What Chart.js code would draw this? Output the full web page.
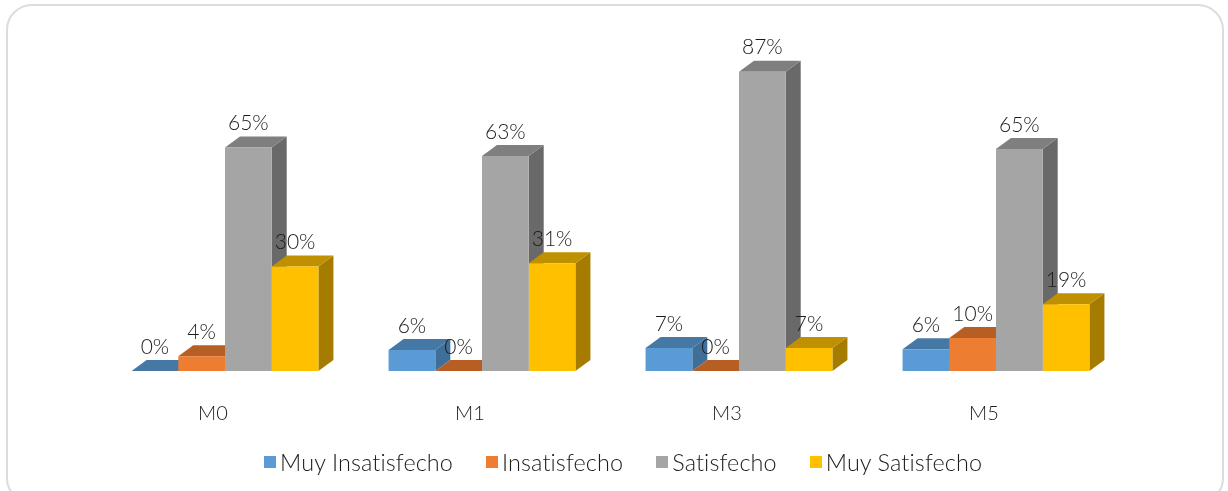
<!DOCTYPE html>
<html lang="es">
<head>
  <meta charset="UTF-8" />
  <title>Satisfaccion</title>
  <script src="https://cdn.jsdelivr.net/npm/chart.js"></script>
  <style>
    html, body { margin: 0; padding: 0; background: #fff; overflow: hidden; }
    #wrap { position: relative; width: 1228px; height: 491px; overflow: hidden; }
    #card { position: absolute; left: 6px; top: 4px; width: 1218px; height: 500px; box-sizing: border-box;
            border: 2px solid #dcdcdc; border-radius: 26px; }
    canvas { position: absolute; left: 0; top: 0; }
    #legend { position: absolute; left: 264px; top: 448px; display: flex; gap: 33px; font: 300 23.4px Lato; letter-spacing: .12px; line-height: 28px; color: #1c1c1c; white-space: nowrap; }
    #legend div { display: flex; align-items: center; }
    #legend i { width: 12px; height: 12px; margin-right: 4px; }
  </style>
</head>
<body>
  <div id="wrap">
    <div id="card"></div>
    <canvas id="chart" width="1228" height="491"></canvas>
    <div id="legend"></div>
  </div>

  <script>
    const categories = ['M0', 'M1', 'M3', 'M5'];
    const muyInsatisfecho = [0, 6.1, 6.7, 6.3];
    const insatisfecho = [4.3, 0, 0, 9.6];
    const satisfecho = [65, 62.5, 87, 64.5];
    const muySatisfecho = [30.4, 31.3, 6.7, 19.4];

    const fontName = 'Lato';
    const textColor = '#1c1c1c';
    const depthX = 15;
    const depthY = 11;

    // fake 3d: side and top faces go behind the bars, then the labels on top
    const bars3d = {
      id: 'bars3d',
      beforeDatasetsDraw(chart) {
        const ctx = chart.ctx;
        chart.data.datasets.forEach((ds, i) => {
          chart.getDatasetMeta(i).data.forEach(bar => {
            const left = bar.x - bar.width / 2;
            const right = bar.x + bar.width / 2;
            ctx.fillStyle = ds.sideColor;
            ctx.beginPath();
            ctx.moveTo(right, bar.y);
            ctx.lineTo(right + depthX, bar.y - depthY);
            ctx.lineTo(right + depthX, bar.base - depthY);
            ctx.lineTo(right, bar.base);
            ctx.closePath();
            ctx.fill();
            ctx.fillStyle = ds.topColor;
            ctx.beginPath();
            ctx.moveTo(left, bar.y);
            ctx.lineTo(left + depthX, bar.y - depthY);
            ctx.lineTo(right + depthX, bar.y - depthY);
            ctx.lineTo(right, bar.y);
            ctx.closePath();
            ctx.fill();
          });
        });
      },
      afterDatasetsDraw(chart) {
        const ctx = chart.ctx;
        ctx.font = '300 21px ' + fontName;
        ctx.fillStyle = textColor;
        ctx.textAlign = 'center';
        ctx.textBaseline = 'middle';
        chart.data.datasets.forEach((ds, i) => {
          chart.getDatasetMeta(i).data.forEach((bar, j) => {
            ctx.fillText(Math.round(ds.data[j]) + '%', bar.x, bar.y - 24);
          });
        });
      }
    };

    const chart = new Chart(document.getElementById('chart'), {
      type: 'bar',
      data: {
        labels: categories,
        datasets: [
          { label: 'Muy Insatisfecho', data: muyInsatisfecho, backgroundColor: '#5B9BD5', topColor: '#4678A6', sideColor: '#3F6E98' },
          { label: 'Insatisfecho', data: insatisfecho, backgroundColor: '#ED7D31', topColor: '#B65E24', sideColor: '#A55520' },
          { label: 'Satisfecho', data: satisfecho, backgroundColor: '#A5A5A5', topColor: '#7F7F7F', sideColor: '#696969' },
          { label: 'Muy Satisfecho', data: muySatisfecho, backgroundColor: '#FFC000', topColor: '#BF9000', sideColor: '#A67C00' }
        ]
      },
      plugins: [bars3d],
      options: {
        responsive: false,
        animation: false,
        categoryPercentage: 0.727,
        barPercentage: 1,
        layout: { padding: { left: 96.5, right: 103.5, top: 27, bottom: 42 } },
        scales: {
          x: {
            grid: { display: false },
            border: { display: false },
            ticks: { color: textColor, padding: 23, labelOffset: -12, font: { family: fontName, size: 20, weight: '300' } }
          },
          y: { display: false, min: 0, max: 100 }
        },
        plugins: {
          tooltip: { enabled: false },
          legend: { display: false }
        }
      }
    });

    // legend in html, the marker sits closer to its text than the built-in one allows
    document.getElementById('legend').innerHTML = chart.data.datasets.map(ds =>
      `<div><i style="background:${ds.backgroundColor}"></i>${ds.label}</div>`).join('');
  </script>
</body>
</html>
